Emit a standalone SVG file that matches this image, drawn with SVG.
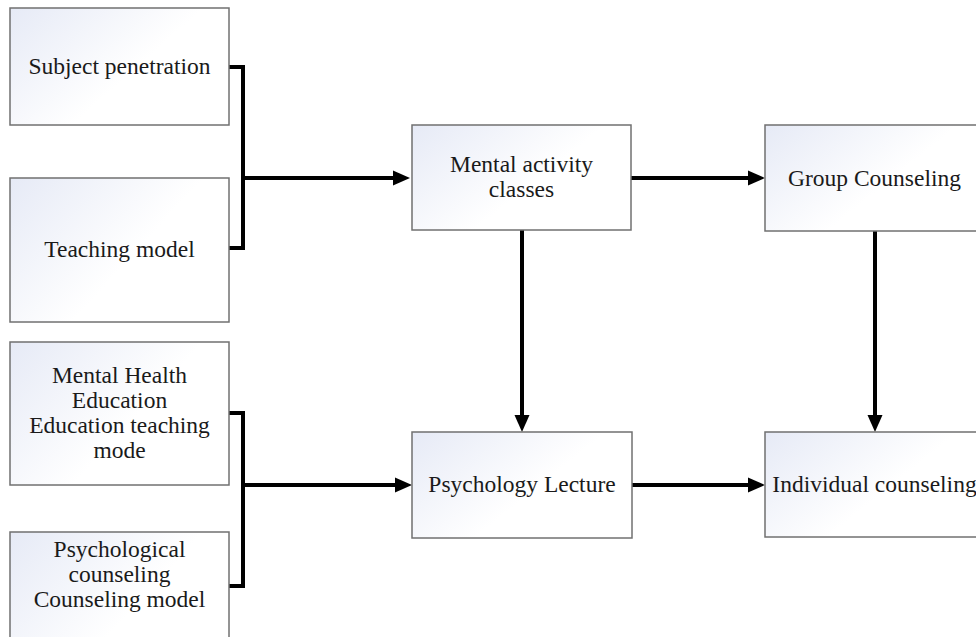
<svg xmlns="http://www.w3.org/2000/svg" width="976" height="637" viewBox="0 0 976 637">
<defs>
<linearGradient id="bg" x1="0" y1="0" x2="1" y2="0.6">
<stop offset="0" stop-color="#e6eaf6"/>
<stop offset="0.65" stop-color="#ffffff"/>
</linearGradient>
<marker id="ah" markerUnits="userSpaceOnUse" markerWidth="17" markerHeight="15" refX="7" refY="7.5" orient="auto" overflow="visible">
<path d="M0,0 L17,7.5 L0,15 z" fill="#000"/>
</marker>
<style>
.box{fill:url(#bg);stroke:#707070;stroke-width:1.5}
.t{font-family:"Liberation Serif","Times New Roman",serif;font-size:23.5px;fill:#1a1a1a;text-anchor:middle}
.c{fill:none;stroke:#000;stroke-width:4}
</style>
</defs>
<rect width="976" height="637" fill="#fff"/>
<g id="connectors">
<path class="c" d="M229,67 H243 V248 H229"/>
<path class="c" d="M243,178 H400" marker-end="url(#ah)"/>
<path class="c" d="M229,413 H243 V586 H229"/>
<path class="c" d="M243,485 H402" marker-end="url(#ah)"/>
<path class="c" d="M631,178 H755" marker-end="url(#ah)"/>
<path class="c" d="M522,230 V422" marker-end="url(#ah)"/>
<path class="c" d="M875,231 V422" marker-end="url(#ah)"/>
<path class="c" d="M632,485 H755" marker-end="url(#ah)"/>
</g>
<g id="subject">
<rect class="box" x="10" y="8" width="219" height="117"/>
<text class="t" x="119.5" y="74">Subject penetration</text>
</g>
<g id="teaching">
<rect class="box" x="10" y="178" width="219" height="144"/>
<text class="t" x="119.5" y="257">Teaching model</text>
</g>
<g id="mhe">
<rect class="box" x="10" y="342" width="219" height="143"/>
<text class="t" x="119.5" y="383">Mental Health</text>
<text class="t" x="119.5" y="408">Education</text>
<text class="t" x="119.5" y="433">Education teaching</text>
<text class="t" x="119.5" y="458">mode</text>
</g>
<g id="psychcounsel">
<rect class="box" x="10" y="532" width="219" height="144"/>
<text class="t" x="119.5" y="557">Psychological</text>
<text class="t" x="119.5" y="582">counseling</text>
<text class="t" x="119.5" y="607">Counseling model</text>
</g>
<g id="mental">
<rect class="box" x="412" y="125" width="219" height="105"/>
<text class="t" x="521.5" y="172">Mental activity</text>
<text class="t" x="521.5" y="197">classes</text>
</g>
<g id="group">
<rect class="box" x="765" y="125" width="219" height="106"/>
<text class="t" x="874.5" y="186">Group Counseling</text>
</g>
<g id="lecture">
<rect class="box" x="412" y="432" width="220" height="106"/>
<text class="t" x="522" y="492">Psychology Lecture</text>
</g>
<g id="individual">
<rect class="box" x="765" y="432" width="219" height="105"/>
<text class="t" x="874.5" y="492">Individual counseling</text>
</g>
</svg>
